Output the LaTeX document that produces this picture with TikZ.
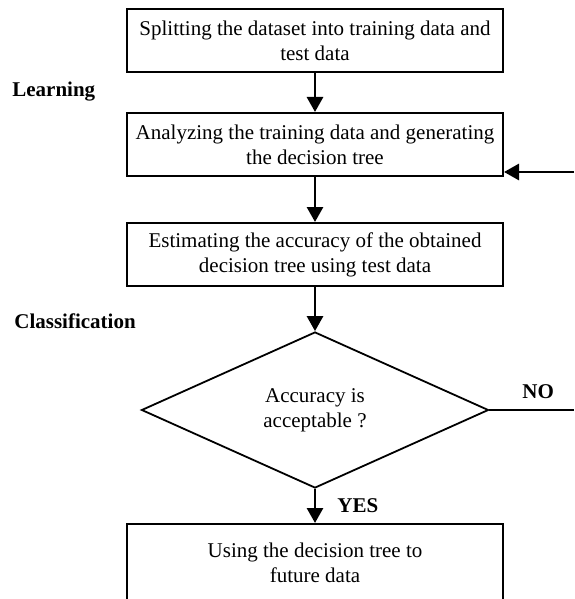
\documentclass[tikz,border=0pt]{standalone}
\usepackage{fontspec}
\setmainfont{Liberation Serif}
\usetikzlibrary{positioning,arrows.meta,shapes.geometric}

\begin{document}
\begin{tikzpicture}[x=0.5pt, y=-0.5pt,
  font=\fontsize{10.5}{12.6}\selectfont,
  procbox/.style={draw, line width=1pt, minimum width=188pt, minimum height=31.5pt, align=center, inner sep=2pt},
  testdiamond/.style={draw, diamond, line width=0.9pt, minimum width=173.5pt, minimum height=78pt, inner sep=0pt, align=center},
  flowarrow/.style={line width=1.4pt, -{Triangle[length=7.5pt, width=8pt]}},
  sidelabel/.style={font=\fontsize{10.5}{12.6}\selectfont\bfseries, inner sep=0pt}]
\clip (0,0) rectangle (574,599);
% learning
\node[procbox] (split) at (315,40.5) {Splitting the dataset into training data and\\test data};
\node[procbox] (analyze) at (315,144.5) {Analyzing the training data and generating\\the decision tree};
\node[procbox] (estimate) at (315,254.5) {Estimating the accuracy of the obtained\\decision tree using test data};
% classification
\node[testdiamond] (check) at (315,410) {Accuracy is\\acceptable ?};
\node[procbox, minimum height=39pt, anchor=north] (use) at (315,523) {Using the decision tree to\\future data};
% labels
\node[sidelabel, anchor=west] (learn) at (12,92) {Learning};
\node[sidelabel, anchor=west] (classify) at (14,321) {Classification};
\node[sidelabel, anchor=west] (yes) at (337,506) {YES};
\node[sidelabel, anchor=west] (no) at (522,392) {NO};
% arrows
\draw[flowarrow] (split) -- (analyze);
\draw[flowarrow] (analyze) -- (estimate);
\draw[flowarrow] (estimate.south) -- (check.north);
\draw[flowarrow] (check.south) -- (use.north);
\coordinate (noend) at (574,410);
\draw[line width=0.9pt] (check.east) -- (noend);
\coordinate (back) at (574,172);
\draw[flowarrow] (back) -- (back -| analyze.east);
\end{tikzpicture}
\end{document}
